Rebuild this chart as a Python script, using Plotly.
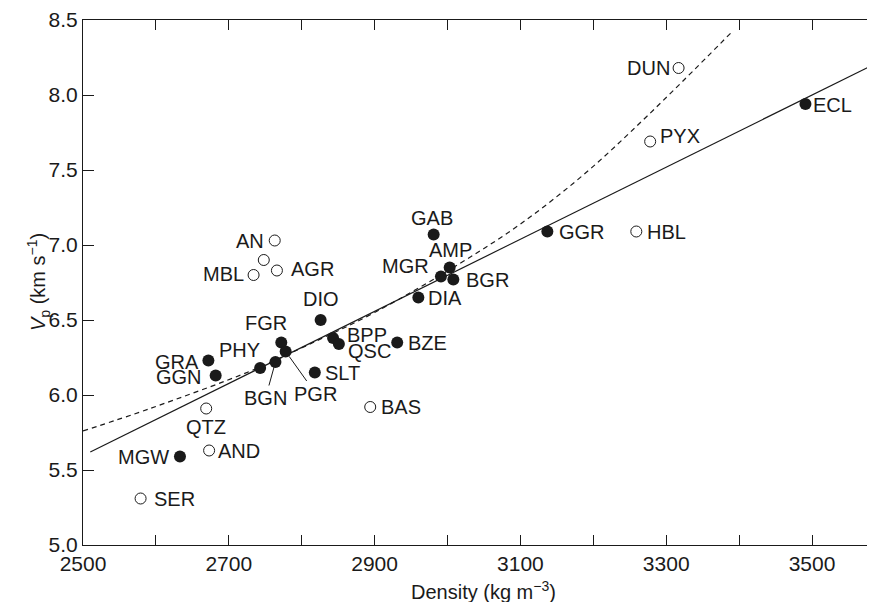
import plotly.graph_objects as go

# rock types measured (filled) and other samples (open), density kg/m3, Vp km/s
filled_names = ["ECL", "GGR", "GAB", "AMP", "MGR", "BGR", "DIA", "DIO", "FGR", "PGR",
                "BGN", "PHY", "GRA", "GGN", "BPP", "QSC", "SLT", "BZE", "MGW"]
filled_density = [3491, 3137, 2981, 3003, 2991, 3008, 2960, 2826, 2772, 2778,
                  2764, 2743, 2672, 2682, 2843, 2851, 2818, 2931, 2633]
filled_vp = [7.94, 7.09, 7.07, 6.85, 6.79, 6.77, 6.65, 6.50, 6.35, 6.29,
             6.22, 6.18, 6.23, 6.13, 6.38, 6.34, 6.15, 6.35, 5.59]

open_names = ["DUN", "PYX", "HBL", "AN", "", "MBL", "AGR", "BAS", "QTZ", "AND", "SER"]
open_density = [3317, 3278, 3259, 2763, 2748, 2734, 2766, 2894, 2669, 2673, 2579]
open_vp = [8.18, 7.69, 7.09, 7.03, 6.90, 6.80, 6.83, 5.92, 5.91, 5.63, 5.31]

# linear fit (solid) end points
fit_density = [2510, 3600]
fit_vp = [5.62, 8.24]

# dashed curve
curve_density = [2500, 2592, 2730, 2807, 2900, 3018, 3100, 3187, 3274, 3390]
curve_vp = [5.76, 5.91, 6.16, 6.33, 6.55, 6.88, 7.14, 7.47, 7.86, 8.42]

x_ticks = list(range(2500, 3601, 100))
x_ticktext = [str(v) if (v - 2500) % 200 == 0 else "" for v in x_ticks]
y_ticks = [5.0, 5.5, 6.0, 6.5, 7.0, 7.5, 8.0, 8.5]

# label placement: (xanchor, dx px, dy px downwards)
label_pos = {
    "ECL": ("left", 6, 1), "GGR": ("left", 10, 0), "HBL": ("left", 9, 0),
    "PYX": ("left", 8, -6), "DUN": ("right", -7, 0), "GAB": ("center", -2, -17),
    "AMP": ("center", 1, -18), "MGR": ("right", -10, -11), "BGR": ("left", 11, 0),
    "DIA": ("left", 8, 0), "BZE": ("left", 9, 0), "AN": ("right", -9, 0),
    "MBL": ("right", -8, -1), "AGR": ("left", 12, -2), "DIO": ("center", 0, -21),
    "FGR": ("center", -15, -20), "PHY": ("right", 2, -18), "GRA": ("right", -7, 1),
    "GGN": ("right", -12, 1), "BPP": ("left", 12, -3), "QSC": ("left", 7, 7),
    "SLT": ("left", 8, 0), "BAS": ("left", 9, 0), "QTZ": ("center", 0, 18),
    "AND": ("left", 7, 0), "MGW": ("right", -9, 0), "SER": ("left", 11, 0),
}
# labels with leader lines: (text offset x, text offset y, standoff)
leader_pos = {"BGN": (-10, 36, 5), "PGR": (30, 42, 6)}

FONT = "Liberation Sans, Arial, Helvetica, sans-serif"
INK = "#1a1a1a"

fig = go.Figure()

fig.add_trace(go.Scatter(x=curve_density, y=curve_vp, mode="lines",
                         line=dict(color=INK, width=1.2, dash="5px,4px", shape="spline"),
                         hoverinfo="skip"))
fig.add_trace(go.Scatter(x=fit_density, y=fit_vp, mode="lines",
                         line=dict(color=INK, width=1.2), hoverinfo="skip"))
fig.add_trace(go.Scatter(x=open_density, y=open_vp, mode="markers", text=open_names,
                         marker=dict(size=11, color="white", line=dict(color=INK, width=1))))
fig.add_trace(go.Scatter(x=filled_density, y=filled_vp, mode="markers", text=filled_names,
                         marker=dict(size=12, color=INK, line=dict(width=0))))

names = filled_names + open_names
xs = filled_density + open_density
ys = filled_vp + open_vp
for name, x, y in zip(names, xs, ys):
    if not name:
        continue
    if name in leader_pos:
        ax, ay, stand = leader_pos[name]
        fig.add_annotation(x=x, y=y, text=name, showarrow=True, arrowhead=0,
                           arrowwidth=1, arrowcolor=INK, ax=ax, ay=ay, standoff=stand,
                           font=dict(size=20, color=INK, family=FONT))
        continue
    anchor, dx, dy = label_pos[name]
    fig.add_annotation(x=x, y=y, text=name, showarrow=False, xanchor=anchor,
                       yanchor="middle", xshift=dx, yshift=-dy,
                       font=dict(size=20, color=INK, family=FONT))

# axis titles
fig.add_annotation(x=3050, y=0, xref="x", yref="paper", yshift=-45, yanchor="middle",
                   text="Density (kg m<sup>−3</sup>)", showarrow=False,
                   font=dict(size=20, color=INK, family=FONT))
fig.add_annotation(x=0, y=0.5, xref="paper", yref="paper", xshift=-61, textangle=-90,
                   text="<i>V</i><sub>p</sub> (km s<sup>−1</sup>)", showarrow=False,
                   font=dict(size=20, color=INK, family=FONT))

fig.update_xaxes(range=[2500, 3597.4], tickvals=x_ticks, ticktext=x_ticktext,
                 ticks="inside", ticklen=10, tickcolor=INK, tickwidth=1,
                 showline=True, linecolor=INK, linewidth=1.2, mirror="ticks",
                 showgrid=False, zeroline=False,
                 tickfont=dict(size=21, color=INK, family=FONT))
fig.update_yaxes(range=[5.0, 8.5], tickvals=y_ticks, tickformat=".1f",
                 ticks="inside", ticklen=11, tickcolor=INK, tickwidth=1,
                 showline=True, linecolor=INK, linewidth=1.2, mirror="ticks",
                 showgrid=False, zeroline=False,
                 tickfont=dict(size=21, color=INK, family=FONT))

# page body keeps its default 8 px margin, so margins are trimmed by that much
fig.update_layout(
    width=875, height=602,
    margin=dict(l=75, r=0, t=12, b=65),
    plot_bgcolor="white", paper_bgcolor="white",
    showlegend=False,
)

fig.write_html("out.html")
